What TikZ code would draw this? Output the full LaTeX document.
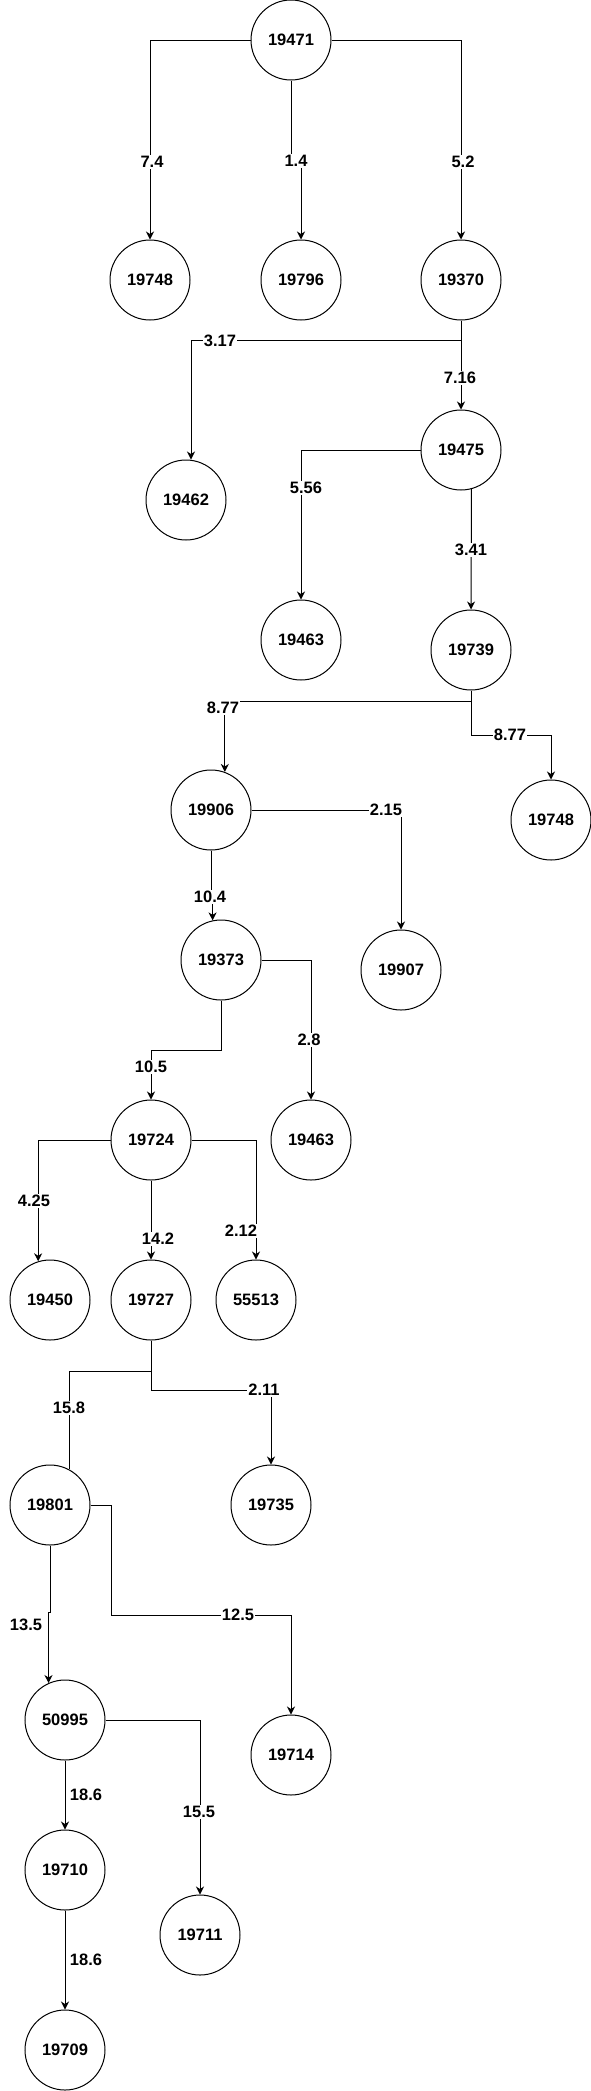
\documentclass[tikz,border=0pt]{standalone}
\usepackage{fontspec}
\setmainfont{Liberation Sans}
\usetikzlibrary{arrows.meta,calc}

\tikzset{
  vertex/.style={circle,draw=black,line width=1pt,fill=white,minimum size=80pt,inner sep=0pt,
                 font=\bfseries\fontsize{16.5}{20}\selectfont},
  edge/.style={line width=1pt,-{Stealth[length=8pt,width=8pt,inset=2.5pt]}},
  plain/.style={line width=1pt},
  weight/.style={fill=white,inner sep=1pt,font=\bfseries\fontsize{16.5}{20}\selectfont}
}

\begin{document}
\begin{tikzpicture}[x=1pt,y=-1pt]
\useasboundingbox (0,0) rectangle (591,2091);

\node[vertex] (19471)  at (291,40)   {19471};
\node[vertex] (19748)  at (150,280)  {19748};
\node[vertex] (19796)  at (301,280)  {19796};
\node[vertex] (19370)  at (461,280)  {19370};
\node[vertex] (19462)  at (186,500)  {19462};
\node[vertex] (19475)  at (461,450)  {19475};
\node[vertex] (19463)  at (301,640)  {19463};
\node[vertex] (19739)  at (471,650)  {19739};
\node[vertex] (19906)  at (211,810)  {19906};
\node[vertex] (19748b) at (551,820)  {19748};
\node[vertex] (19373)  at (221,960)  {19373};
\node[vertex] (19907)  at (401,970)  {19907};
\node[vertex] (19724)  at (151,1140) {19724};
\node[vertex] (19463b) at (311,1140) {19463};
\node[vertex] (19450)  at (50,1300)  {19450};
\node[vertex] (19727)  at (151,1300) {19727};
\node[vertex] (55513)  at (256,1300) {55513};
\node[vertex] (19801)  at (50,1505)  {19801};
\node[vertex] (19735)  at (271,1505) {19735};
\node[vertex] (50995)  at (65,1720)  {50995};
\node[vertex] (19714)  at (291,1755) {19714};
\node[vertex] (19710)  at (65,1870)  {19710};
\node[vertex] (19711)  at (200,1935) {19711};
\node[vertex] (19709)  at (65,2050)  {19709};

% first level
\draw[edge] (19471.west) -| (19748.north) node[weight] (w1) at (152,162) {7.4};
\draw[edge] (19471.south) |- (296,161) -| (19796.north) node[weight] (w2) at (296,161) {1.4};
\draw[edge] (19471.east) -| (19370.north) node[weight] (w3) at (463,162) {5.2};

\draw[edge] (19370.south) -- (461,340) -| ($(19462.north)+(5,0)$) node[weight] (w4) at (220,341) {3.17};
\draw[edge] (19370.south) -- (19475.north) node[weight] (w5) at (460,378) {7.16};

\draw[edge] (19475.west) -| (19463.north) node[weight] (w6) at (306,488) {5.56};
\draw[edge] (19475.-75.7) -- (19739.north) node[weight] (w7) at (471,550) {3.41};

\draw[edge] (19739.south) -- (471,701) -| (19906.70.5) node[weight] (w8) at (223,708) {8.77};
\draw[edge] (19739.south) -- (471,735) -| (19748b.north) node[weight] (w9) at (510,735) {8.77};

\draw[edge] (19906.east) -| (19907.north) node[weight] (w10) at (386,810) {2.15};
\draw[edge] (19906.south) -- (211,897) -| (19373.102.8) node[weight] (w11) at (210,897) {10.4};

\draw[edge] (19373.east) -| (19463b.north) node[weight] (w12) at (309,1040) {2.8};
\draw[edge] (19373.south) |- (186,1050) -| (19724.north) node[weight] (w13) at (151,1067) {10.5};

\draw[edge] (19724.west) -| (19450.107.7) node[weight] (w14) at (34,1201) {4.25};
\draw[edge] (19724.south) -- (19727.north) node[weight] (w15) at (158,1239) {14.2};
\draw[edge] (19724.east) -| (55513.north) node[weight] (w16) at (241,1231) {2.12};

\draw[plain] (19727.south) -- (151,1371) -| (19801.62.5) node[weight] (w17) at (69,1408) {15.8};
\draw[edge] (19727.south) -- (151,1390) -| (19735.north) node[weight] (w18) at (264,1390) {2.11};

\draw[edge] (19801.south) |- (49,1612) -| (50995.114.4) node[weight] (w19) at (26,1625) {13.5};
\draw[edge] (19801.east) -| (111,1615) -| (19714.north) node[weight] (w20) at (238,1615) {12.5};

\draw[edge] (50995.south) -- (19710.north) node[weight] (w21) at (86,1795) {18.6};
\draw[edge] (50995.east) -| (19711.north) node[weight] (w22) at (199,1812) {15.5};
\draw[edge] (19710.south) -- (19709.north) node[weight] (w23) at (86,1960) {18.6};

\end{tikzpicture}
\end{document}
